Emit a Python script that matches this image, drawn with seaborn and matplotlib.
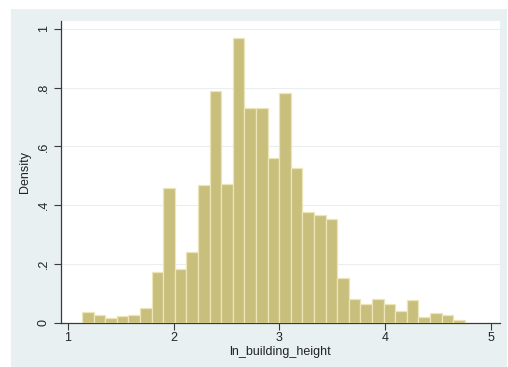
import numpy as np
import pandas as pd
import matplotlib
matplotlib.use("Agg")
import matplotlib.pyplot as plt
from matplotlib.patches import Rectangle
import seaborn as sns

# Histogram of ln_building_height: 33 equal-width bins
bin_start = 1.132
bin_width = 0.1097
densities = [0.036, 0.027, 0.014, 0.023, 0.027, 0.050, 0.173, 0.458, 0.183,
             0.241, 0.467, 0.789, 0.473, 0.970, 0.730, 0.730, 0.561, 0.783,
             0.525, 0.378, 0.365, 0.351, 0.152, 0.080, 0.062, 0.080, 0.062,
             0.040, 0.076, 0.018, 0.032, 0.027, 0.009]
y_ticks = [0, 0.2, 0.4, 0.6, 0.8, 1.0]
y_tick_labels = ["0", ".2", ".4", ".6", ".8", "1"]
x_ticks = [1, 2, 3, 4, 5]

edges = [bin_start + bin_width * i for i in range(len(densities) + 1)]
df = pd.DataFrame({"ln_building_height": [(a + b) / 2 for a, b in zip(edges[:-1], edges[1:])],
                   "density": densities})

sns.set_style("white")
plt.rcParams["font.family"] = ["Liberation Sans", "DejaVu Sans"]

fig = plt.figure(figsize=(5.08, 3.67), dpi=100, facecolor="white")
fig.patches.append(Rectangle((11 / 508, 0), 496 / 508, 1 - 9 / 367,
                             transform=fig.transFigure, facecolor="#e9f0f2",
                             edgecolor="none", zorder=-10))
ax = fig.add_axes([61 / 508, 1 - 322.5 / 367, 439 / 508, 301.5 / 367])
ax.set_facecolor("white")

sns.histplot(data=df, x="ln_building_height", weights="density", bins=edges,
             stat="count", color="#c9bf7d", edgecolor="#ebe5b8",
             linewidth=0.9, alpha=1, ax=ax, zorder=3)

ax.set_xlim(0.934, 5.085)
ax.set_ylim(0, 1.027)
ax.set_yticks(y_ticks)
ax.set_yticklabels(y_tick_labels, rotation=90, va="center")
ax.set_xticks(x_ticks)
ax.set_xticklabels([str(t) for t in x_ticks])
for y in y_ticks[1:]:
    ax.axhline(y, color="#eaeeee", linewidth=0.8, zorder=1)

for side in ["top", "right"]:
    ax.spines[side].set_visible(False)
for side in ["left", "bottom"]:
    ax.spines[side].set_color("#3a3a3a")
    ax.spines[side].set_linewidth(0.9)

ax.tick_params(axis="both", direction="out", length=5, width=0.8,
               color="#3a3a3a", labelsize=9, labelcolor="#222222", pad=2)
ax.tick_params(axis="y", left=True, pad=3)
ax.tick_params(axis="x", bottom=True)
ax.set_xlabel("ln_building_height", fontsize=9, color="#222222", labelpad=1)
ax.set_ylabel("Density", fontsize=9, color="#222222", labelpad=5)

fig.savefig("out.png", dpi=100, facecolor="white")
